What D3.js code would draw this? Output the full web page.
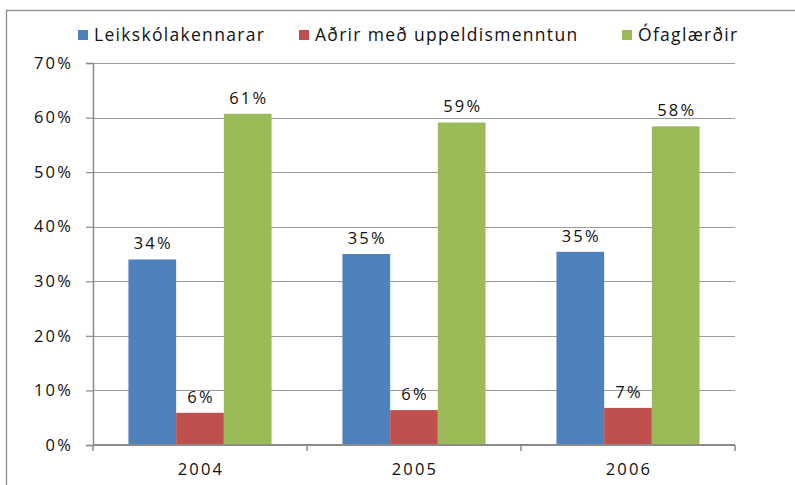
<!DOCTYPE html>
<html><head><meta charset="utf-8">
<script src="https://cdn.jsdelivr.net/npm/d3@7"></script>
<style>
body{margin:0;background:#fff}
text{font-family:"Open Sans",sans-serif;fill:#111}
</style></head><body>
<svg id="c" width="795" height="485"></svg>
<script>
const categories = ["2004", "2005", "2006"];
const seriesNames = ["Leikskólakennarar", "Aðrir með uppeldismenntun", "Ófaglærðir"];
const leikskolakennarar = [0.340, 0.350, 0.354];
const adrir = [0.059, 0.064, 0.068];
const ofaglaerdir = [0.607, 0.591, 0.584];
const yTicks = [0, 0.1, 0.2, 0.3, 0.4, 0.5, 0.6, 0.7];
const colors = ["#4F81BD", "#C0504D", "#9BBB59"];

const series = [leikskolakennarar, adrir, ofaglaerdir];
const svg = d3.select("#c");
const L = 93, R = 735, T = 63, B = 445;

// outer frame
svg.append("rect").attr("x", 6.5).attr("y", 10.5).attr("width", 900).attr("height", 600)
  .attr("fill", "none").attr("stroke", "#8c8c8c").attr("stroke-width", 1.3);

const y = d3.scaleLinear().domain([0, 0.7]).range([B, T]);
const x0 = d3.scaleBand().domain(categories).range([L, R]).paddingInner(0).paddingOuter(0);
const x1 = d3.scaleBand().domain(d3.range(series.length)).range([0, x0.bandwidth()])
  .paddingInner(0).paddingOuter(0.743);

// gridlines
svg.append("g").selectAll("line").data(yTicks.slice(1)).join("line")
  .attr("x1", L).attr("x2", R).attr("y1", d => Math.round(y(d)) + 0.5).attr("y2", d => Math.round(y(d)) + 0.5)
  .attr("stroke", "#9a9a9a").attr("stroke-width", 1.2);

// y axis
const yAxis = svg.append("g").attr("transform", `translate(${L},0)`)
  .call(d3.axisLeft(y).tickValues(yTicks).tickFormat(d3.format(".0%")).tickSize(7).tickPadding(13));
yAxis.select(".domain").attr("stroke", "#8a8a8a").attr("stroke-width", 1.5);
yAxis.selectAll(".tick line").attr("stroke", "#8a8a8a").attr("stroke-width", 1.2);
yAxis.selectAll(".tick text").attr("font-size", 16.5).attr("letter-spacing", 2.2)
  .attr("font-family", "Open Sans").attr("fill", "#111");

// bars
const fmt = d3.format(".0%");
series.forEach((vals, si) => {
  const g = svg.append("g");
  g.selectAll("rect").data(vals).join("rect")
    .attr("x", (d, i) => x0(categories[i]) + x1(si))
    .attr("width", x1.bandwidth())
    .attr("y", d => y(d)).attr("height", d => B - y(d))
    .attr("fill", colors[si]);
  g.selectAll("text").data(vals).join("text")
    .attr("x", (d, i) => x0(categories[i]) + x1(si) + x1.bandwidth() / 2 + 1)
    .attr("y", d => y(d) - 10)
    .attr("text-anchor", "middle").attr("font-size", 16.5).attr("letter-spacing", 2.2)
    .text(d => fmt(d));
});

// x axis
const xa = svg.append("g");
xa.append("line").attr("x1", L).attr("x2", R).attr("y1", B).attr("y2", B)
  .attr("stroke", "#8a8a8a").attr("stroke-width", 2);
const bounds = categories.map(c => x0(c)).concat([x0(categories[categories.length - 1]) + x0.bandwidth()]);
xa.selectAll("line.t").data(bounds).join("line").attr("class", "t")
  .attr("x1", d => d).attr("x2", d => d).attr("y1", B).attr("y2", B + 6)
  .attr("stroke", "#8a8a8a").attr("stroke-width", 1.5);
xa.selectAll("text").data(categories).join("text")
  .attr("x", d => x0(d) + x0.bandwidth() / 2 + 1).attr("y", 475)
  .attr("text-anchor", "middle").attr("font-size", 16.5).attr("letter-spacing", 2.2)
  .text(d => d);

// legend
const legX = [78, 299, 622];
const leg = svg.append("g");
seriesNames.forEach((n, i) => {
  leg.append("rect").attr("x", legX[i]).attr("y", 30).attr("width", 10).attr("height", 10).attr("fill", colors[i]);
  leg.append("text").attr("x", legX[i] + 16).attr("y", 41).attr("font-size", 17.5).attr("letter-spacing", 1.3).text(n);
});
</script>
</body></html>
